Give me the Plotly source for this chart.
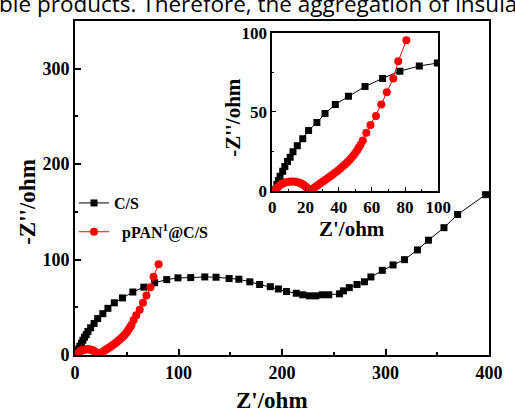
import plotly.graph_objects as go

# ---- data ----
cs_x = [1.4, 2.8, 3.7, 4.7, 6.3, 7.6, 9.2, 10.8, 12.5, 15.1, 18.4, 21.9, 26.9, 31.8, 38.0,
        45.9, 55.9, 66.5, 76.9, 88.6, 99.5, 111.8, 125.4, 136.3, 148.9, 158.3, 168.9, 178.4,
        188.7, 196.5, 204.4, 213.8, 220.0, 226.4, 232.7, 238.9, 245.2, 255.5, 259.3, 265.0,
        272.5, 279.7, 285.9, 296.9, 307.3, 318.3, 330.8, 341.5, 356.5, 369.7, 396.7]
cs_y = [1.0, 4.1, 6.6, 9.3, 12.4, 15.5, 18.6, 21.3, 24.7, 28.5, 33.0, 38.2, 43.3, 48.9, 54.7,
        59.8, 66.0, 71.1, 75.7, 79.0, 80.8, 81.1, 81.8, 81.5, 80.1, 79.4, 76.7, 73.9,
        71.6, 69.2, 66.5, 64.7, 63.1, 62.0, 62.0, 63.1, 63.1, 64.1, 67.2, 70.6,
        73.9, 76.7, 81.8, 88.7, 94.4, 99.9, 110.1, 120.3, 133.4, 147.2, 168.0]

pan_x = [1.8, 2.5, 3.3, 4.2, 5.2, 6.3, 7.5, 8.8, 10.1, 11.4, 12.7, 14.0, 15.3, 16.5, 17.6,
         18.6, 19.5, 20.3, 21.0, 21.7, 22.4, 23.2, 24.1, 25.1, 26.3, 27.6, 29.0, 30.5, 32.0,
         33.5, 35.0, 36.5, 38.0, 39.5, 41.0, 42.4, 43.8, 45.1, 46.4, 47.6, 48.8, 50.0, 51.1,
         52.2, 53.3, 54.6, 56.7, 59.2, 62.5, 65.7, 69.0, 72.9, 75.9, 80.8]
pan_y = [0.2, 1.3, 2.3, 3.2, 4.0, 4.7, 5.2, 5.6, 5.8, 5.9, 5.9, 5.8, 5.5, 5.1, 4.6,
         4.0, 3.3, 2.6, 1.9, 1.3, 0.9, 0.8, 1.2, 1.8, 2.8, 3.8, 4.9, 6.0, 7.1,
         8.2, 9.3, 10.4, 11.6, 12.8, 14.1, 15.4, 16.7, 18.0, 19.4, 20.8, 22.3, 23.9, 25.6,
         27.4, 29.3, 31.8, 36.7, 41.7, 47.4, 54.7, 62.3, 71.1, 82.0, 95.2]

name_cs = "C/S"
name_pan = "\u00a0\u00a0pPAN<sup>1</sup>@C/S"
x_title = "Z'/ohm"
y_title = "-Z''/ohm"
top_text = "ble products. Therefore, the aggregation of insula"

SERIF = "Liberation Serif, Times New Roman, serif"
W, H = 515, 412
ML, MR, MT, MB = 75, 16, 13, 57
PW, PH = W - ML - MR, H - MT - MB

def px(x):
    return (x - ML) / PW

def py(y):
    return (H - MB - y) / PH

fig = go.Figure()

sq = dict(symbol="square", size=7, color="black")
ci = dict(symbol="circle", size=8, color="#ff0000")

fig.add_trace(go.Scatter(x=cs_x, y=cs_y, mode="lines+markers", name=name_cs,
                         line=dict(color="black", width=1), marker=sq, legendgroup="a"))
fig.add_trace(go.Scatter(x=pan_x, y=pan_y, mode="lines+markers", name=name_pan,
                         line=dict(color="#ff0000", width=1), marker=ci, legendgroup="b"))
fig.add_trace(go.Scatter(x=cs_x, y=cs_y, mode="lines+markers", showlegend=False,
                         line=dict(color="black", width=1), marker=sq, xaxis="x2", yaxis="y2"))
fig.add_trace(go.Scatter(x=pan_x, y=pan_y, mode="lines+markers", showlegend=False,
                         line=dict(color="#ff0000", width=1), marker=ci, xaxis="x2", yaxis="y2"))

tickfont = dict(family=SERIF, size=18, color="black", weight="bold")
tickfont_inset = dict(family=SERIF, size=17, color="black", weight="bold")

axis_common = dict(showgrid=False, zeroline=False, showline=True, linecolor="black",
                   mirror=True, ticks="inside", tickcolor="black")

fig.update_layout(
    width=W, height=H,
    margin=dict(l=ML, r=MR, t=MT, b=MB, pad=0),
    paper_bgcolor="white", plot_bgcolor="white",
    showlegend=True,
    legend=dict(x=px(74), y=py(182), xanchor="left", yanchor="top",
                font=dict(family=SERIF, size=16, color="black", weight="bold"),
                bgcolor="rgba(0,0,0,0)", tracegroupgap=5, itemwidth=30),
    xaxis=dict(range=[0, 400], tickvals=[0, 100, 200, 300, 400], linewidth=2,
               ticklen=6, tickwidth=1.5, tickfont=tickfont,
               minor=dict(tickvals=[50, 150, 250, 350], ticklen=3, tickwidth=1.5,
                          ticks="inside", tickcolor="black"),
               **axis_common),
    yaxis=dict(range=[0, 350], tickvals=[0, 100, 200, 300], linewidth=2,
               ticklen=6, tickwidth=1.5, tickfont=tickfont,
               minor=dict(tickvals=[50, 150, 250], ticklen=3, tickwidth=1.5,
                          ticks="inside", tickcolor="black"),
               **axis_common),
    xaxis2=dict(domain=[px(277), px(447)], anchor="y2", range=[0, 100],
                tickvals=[0, 20, 40, 60, 80, 100], linewidth=1.5, ticklen=4, tickwidth=1,
                tickfont=tickfont_inset,
                minor=dict(tickvals=[10, 30, 50, 70, 90], ticklen=2, tickwidth=1,
                           ticks="inside", tickcolor="black"),
                **axis_common),
    yaxis2=dict(domain=[py(187), py(25)], anchor="x2", range=[0, 100],
                tickvals=[0, 50, 100], linewidth=1.5, ticklen=4, tickwidth=1,
                tickfont=tickfont_inset,
                minor=dict(tickvals=[25, 75], ticklen=2, tickwidth=1,
                           ticks="inside", tickcolor="black"),
                **axis_common),
)

title_font_main = dict(family=SERIF, size=23, color="black", weight="bold")
title_font_inset = dict(family=SERIF, size=21, color="black", weight="bold")

fig.add_annotation(text=y_title, xref="paper", yref="paper", x=px(27), y=py(198),
                   textangle=-90, showarrow=False, font=title_font_main,
                   xanchor="center", yanchor="middle")
fig.add_annotation(text=x_title, xref="paper", yref="paper", x=px(277), y=py(402),
                   showarrow=False, font=title_font_main, xanchor="center", yanchor="middle")
fig.add_annotation(text=y_title, xref="paper", yref="paper", x=px(237), y=py(112),
                   textangle=-90, showarrow=False, font=title_font_inset,
                   xanchor="center", yanchor="middle")
fig.add_annotation(text=x_title, xref="paper", yref="paper", x=px(359), y=py(226),
                   showarrow=False, font=title_font_inset, xanchor="center", yanchor="middle")
fig.add_annotation(text=top_text, xref="paper", yref="paper", x=px(-5), y=py(4),
                   yshift=9, showarrow=False,
                   font=dict(family="Open Sans, sans-serif", size=22.5, color="black"),
                   xanchor="left", yanchor="middle")

fig.write_html("out.html")
